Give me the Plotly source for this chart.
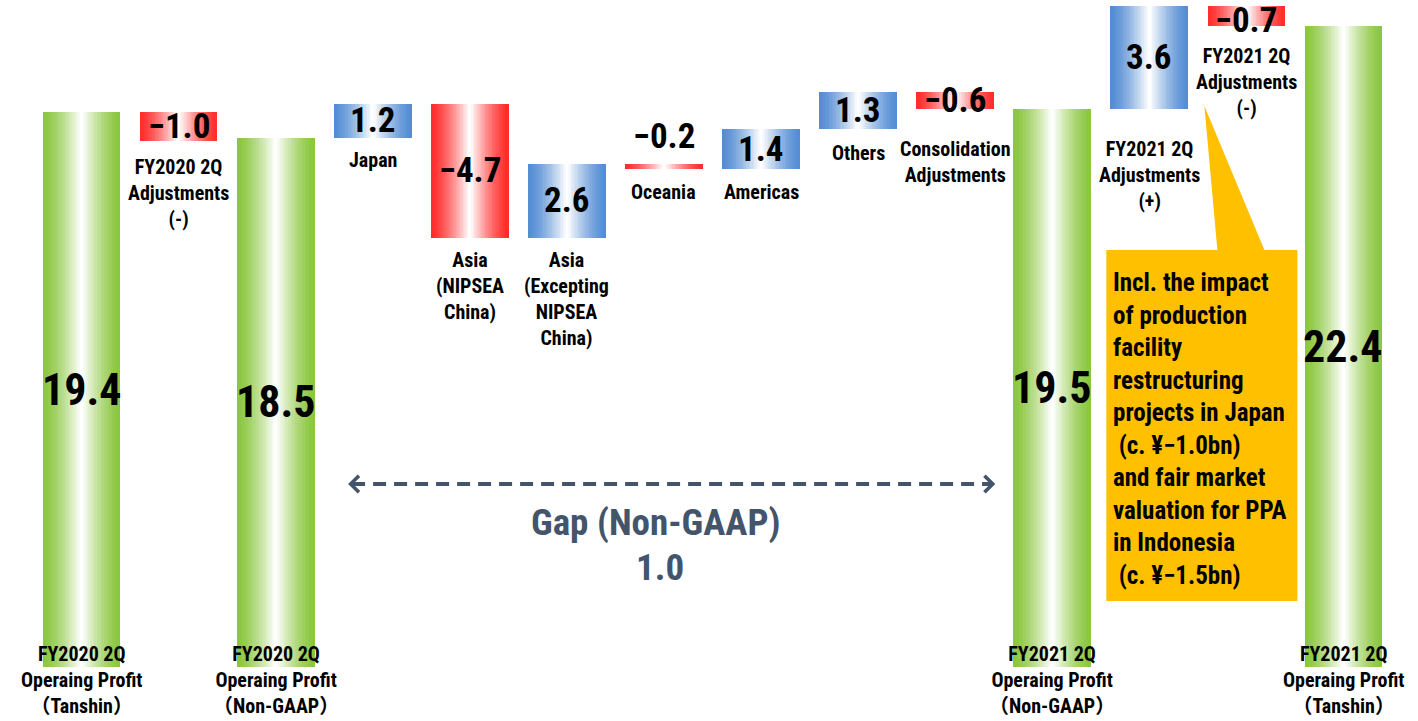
import plotly.graph_objects as go

# ---------------- data ----------------
steps = [
    "FY2020 2Q<br>Operaing Profit<br>（Tanshin）",
    "FY2020 2Q<br>Adjustments<br>(-)",
    "FY2020 2Q<br>Operaing Profit<br>（Non-GAAP）",
    "Japan",
    "Asia<br>(NIPSEA<br>China)",
    "Asia<br>(Excepting<br>NIPSEA<br>China)",
    "Oceania",
    "Americas",
    "Others",
    "Consolidation<br>Adjustments",
    "FY2021 2Q<br>Operaing Profit<br>（Non-GAAP）",
    "FY2021 2Q<br>Adjustments<br>(+)",
    "FY2021 2Q<br>Adjustments<br>(-)",
    "FY2021 2Q<br>Operaing Profit<br>（Tanshin）",
]
values = [19.4, -1.0, 18.5, 1.2, -4.7, 2.6, -0.2, 1.4, 1.3, -0.6, 19.5, 3.6, -0.7, 22.4]
kinds = ["total", "delta", "total", "delta", "delta", "delta", "delta",
         "delta", "delta", "delta", "total", "delta", "delta", "total"]
callout_text = ("Incl. the impact<br>of production<br>facility<br>restructuring<br>"
                "projects in Japan<br>\u00a0(c. ¥−1.0bn)<br>and fair market<br>"
                "valuation for PPA<br>in Indonesia<br>\u00a0(c. ¥−1.5bn)")
gap_title = "Gap (Non-GAAP)"

# ---------------- styling ----------------
FONT = "Liberation Sans Narrow, Roboto Condensed, DejaVu Sans Condensed, Noto Sans CJK JP, sans-serif"
GREEN = (138, 198, 62)
RED = (255, 45, 45)
BLUE = (84, 141, 212)
GAP_COLOR = "#44546a"
BOX_COLOR = "#ffc000"

# label gaps (px) under delta bars
label_gap = {1: 12, 3: 8, 4: 8, 5: 8, 6: 9, 7: 9, 8: 10, 9: 26, 11: 26, 12: 16}
# extra vertical shift (px) of value labels inside delta bars
value_shift = {12: -4}

# pixel geometry of the plot area
PX_LEFT, PX_UNIT = 33.0, 97.04
PX_BASE, PY_UNIT = 667.0, 28.6
W, H = 1418, 721


def xd(px):
    return (px - PX_LEFT) / PX_UNIT - 0.5


def yd(py):
    return (PX_BASE - py) / PY_UNIT


# ---------------- waterfall geometry ----------------
xs = list(range(len(values)))
bases, heights, colors = [], [], []
running = 0.0
for v, k in zip(values, kinds):
    if k == "total":
        bases.append(0.0)
        heights.append(v)
        running = v
        colors.append(GREEN)
    else:
        bases.append(running)
        heights.append(v)
        running += v
        colors.append(BLUE if v > 0 else RED)


def mix(c, t):
    r, g, b = (int(round(ci + (255 - ci) * t)) for ci in c)
    return f"rgb({r},{g},{b})"


fig = go.Figure()
N = 28
BAR_W = 0.8
for k in range(N):
    t = (k / (N - 1)) ** 1.4
    fig.add_trace(go.Bar(
        x=xs, y=heights, base=bases,
        width=BAR_W * (1 - k / N),
        marker=dict(color=[mix(c, t) for c in colors], line=dict(width=0)),
        hoverinfo="skip", showlegend=False,
    ))

annotations = []
for i, (v, k) in enumerate(zip(values, kinds)):
    lo = min(bases[i], bases[i] + heights[i])
    hi = max(bases[i], bases[i] + heights[i])
    txt = f"{abs(v):.1f}" if v >= 0 else f"−{abs(v):.1f}"
    if k == "total":
        annotations.append(dict(x=i, y=(lo + hi) / 2, text=txt, showarrow=False,
                                font=dict(family=FONT, size=44, color="black", weight="bold")))
        annotations.append(dict(x=i, y=0, text=steps[i], showarrow=False,
                                yanchor="top", yshift=27,
                                font=dict(family=FONT, size=20, color="black", weight="bold")))
    else:
        if abs(v) < 0.4:
            annotations.append(dict(x=i, y=hi, text=txt, showarrow=False,
                                    yanchor="middle", yshift=27,
                                    font=dict(family=FONT, size=35, color="black", weight="bold")))
        else:
            annotations.append(dict(x=i, y=(lo + hi) / 2, text=txt, showarrow=False,
                                    yshift=value_shift.get(i, 0),
                                    font=dict(family=FONT, size=35, color="black", weight="bold")))
        annotations.append(dict(x=i, y=lo, text=steps[i], showarrow=False,
                                yanchor="top", yshift=-label_gap.get(i, 8),
                                font=dict(family=FONT, size=20, color="black", weight="bold")))

# gap annotation
gap_value = values[10] - values[2]
annotations.append(dict(x=xd(655), y=yd(522), text=gap_title, showarrow=False,
                        font=dict(family=FONT, size=37, color=GAP_COLOR, weight="bold")))
annotations.append(dict(x=xd(660), y=yd(567), text=f"{gap_value:.1f}", showarrow=False,
                        font=dict(family=FONT, size=37, color=GAP_COLOR, weight="bold")))
# arrow heads
ay = yd(484)
for tip, tail in ((348, 362), (995, 981)):
    annotations.append(dict(x=xd(tip), y=ay, ax=xd(tail), ay=ay, axref="x", ayref="y",
                            xref="x", yref="y", text="", showarrow=True,
                            arrowhead=4, arrowsize=0.8, arrowwidth=4,
                            arrowcolor=GAP_COLOR))

# callout text
annotations.append(dict(x=xd(1111), y=yd(266), text=callout_text, showarrow=False,
                        xanchor="left", yanchor="top", align="left",
                        font=dict(family=FONT, size=25, color="black", weight="bold")))

shapes = [
    dict(type="line", x0=xd(352), x1=xd(992), y0=ay, y1=ay, xref="x", yref="y",
         line=dict(color=GAP_COLOR, width=4, dash="13px,8px")),
]
bx0, bx1, by0, by1 = xd(1106), xd(1297), yd(250), yd(601)
path = (f"M{bx0},{by0} L{xd(1217)},{by0} L{xd(1204)},{yd(106)} L{xd(1264)},{by0} "
        f"L{bx1},{by0} L{bx1},{by1} L{bx0},{by1} Z")
shapes.append(dict(type="path", path=path, xref="x", yref="y",
                   fillcolor=BOX_COLOR, line=dict(width=0), layer="above"))

r_margin = W - PX_LEFT - 14 * PX_UNIT
fig.update_layout(
    width=W, height=H,
    barmode="overlay", bargap=0,
    margin=dict(l=PX_LEFT, r=r_margin, t=0, b=0),
    plot_bgcolor="white", paper_bgcolor="white",
    xaxis=dict(range=[-0.5, 13.5], visible=False, fixedrange=True),
    yaxis=dict(range=[yd(H), yd(0)], visible=False, fixedrange=True),
    annotations=annotations, shapes=shapes,
    showlegend=False,
)

fig.write_html(
    "out.html",
    config={"displayModeBar": False},
    post_script="document.body.style.margin='0';document.body.style.overflow='hidden';",
)
